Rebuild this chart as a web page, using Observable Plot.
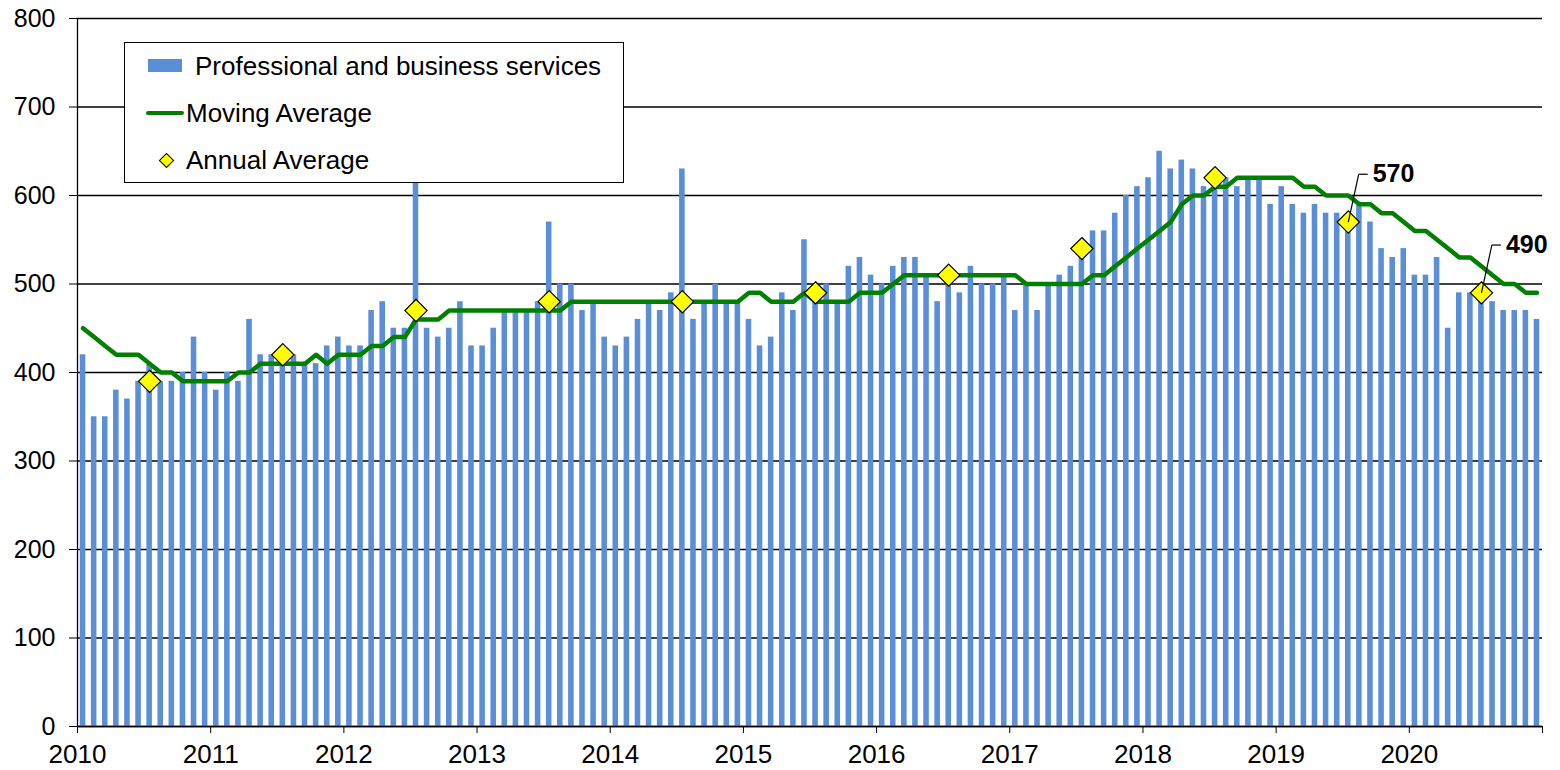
<!DOCTYPE html>
<html>
<head>
<meta charset="utf-8">
<script src="https://cdn.jsdelivr.net/npm/d3@7"></script>
<script src="https://cdn.jsdelivr.net/npm/@observablehq/plot@0.6"></script>
<style>
  body { margin: 0; background: #fff; font-family: "Liberation Sans", Arial, sans-serif; }
  #wrap { position: relative; width: 1560px; height: 770px; }
  #legend { position: absolute; left: 124px; top: 42px; width: 500px; height: 141px;
            border: 1.5px solid #000; background: #fff; box-sizing: border-box; }
  #legend .t { position: absolute; font-size: 26px; line-height: 30px; color: #000; white-space: nowrap; }
  #legend .sw { position: absolute; }
</style>
</head>
<body>
<div id="wrap">
  <div id="chart"></div>
  <div id="legend"></div>
</div>
<script>
// ---- data ----
const years = [2010, 2011, 2012, 2013, 2014, 2015, 2016, 2017, 2018, 2019, 2020];
const seriesName = "Professional and business services";
const monthly2010 = [420, 350, 350, 380, 370, 390, 410, 390, 390, 400, 440, 400];
const monthly2011 = [380, 400, 390, 460, 420, 420, 420, 420, 410, 410, 430, 440];
const monthly2012 = [430, 430, 470, 480, 450, 450, 680, 450, 440, 450, 480, 430];
const monthly2013 = [430, 450, 470, 470, 470, 480, 570, 500, 500, 470, 480, 440];
const monthly2014 = [430, 440, 460, 480, 470, 490, 630, 460, 480, 500, 480, 480];
const monthly2015 = [460, 430, 440, 490, 470, 550, 500, 500, 480, 520, 530, 510];
const monthly2016 = [500, 520, 530, 530, 510, 480, 520, 490, 520, 500, 500, 510];
const monthly2017 = [470, 500, 470, 500, 510, 520, 530, 560, 560, 580, 600, 610];
const monthly2018 = [620, 650, 630, 640, 630, 610, 610, 620, 610, 620, 620, 590];
const monthly2019 = [610, 590, 580, 590, 580, 580, 570, 590, 570, 540, 530, 540];
const monthly2020 = [510, 510, 530, 450, 490, 490, 490, 480, 470, 470, 470, 460];

const movingAvg2010 = [450, 440, 430, 420, 420, 420, 410, 400, 400, 390, 390, 390];
const movingAvg2011 = [390, 390, 400, 400, 410, 410, 410, 410, 410, 420, 410, 420];
const movingAvg2012 = [420, 420, 430, 430, 440, 440, 460, 460, 460, 470, 470, 470];
const movingAvg2013 = [470, 470, 470, 470, 470, 470, 470, 470, 480, 480, 480, 480];
const movingAvg2014 = [480, 480, 480, 480, 480, 480, 480, 480, 480, 480, 480, 480];
const movingAvg2015 = [490, 490, 480, 480, 480, 490, 480, 480, 480, 480, 490, 490];
const movingAvg2016 = [490, 500, 510, 510, 510, 510, 510, 510, 510, 510, 510, 510];
const movingAvg2017 = [510, 500, 500, 500, 500, 500, 500, 510, 510, 520, 530, 540];
const movingAvg2018 = [550, 560, 570, 590, 600, 600, 610, 610, 620, 620, 620, 620];
const movingAvg2019 = [620, 620, 610, 610, 600, 600, 600, 590, 590, 580, 580, 570];
const movingAvg2020 = [560, 560, 550, 540, 530, 530, 520, 510, 500, 500, 490, 490];

const annualAvg = [390, 420, 470, 480, 480, 490, 510, 540, 620, 570, 490];
const labelledYears = [2019, 2020];
const labelledValues = [570, 490];

const yTicks = [0, 100, 200, 300, 400, 500, 600, 700, 800];
const xTicks = [2010, 2011, 2012, 2013, 2014, 2015, 2016, 2017, 2018, 2019, 2020, 2021];

// ---- build tables ----
const monthlyAll = [monthly2010, monthly2011, monthly2012, monthly2013, monthly2014, monthly2015,
  monthly2016, monthly2017, monthly2018, monthly2019, monthly2020].flat();
const maAll = [movingAvg2010, movingAvg2011, movingAvg2012, movingAvg2013, movingAvg2014, movingAvg2015,
  movingAvg2016, movingAvg2017, movingAvg2018, movingAvg2019, movingAvg2020].flat();
const rows = monthlyAll.map((v, i) => ({ t: years[0] + (i + 0.5) / 12, v, ma: maAll[i] }));
const annual = years.map((y, i) => ({ t: y + 6.5 / 12, v: annualAvg[i] }));
const labels = labelledYears.map((y, i) => ({ t: y + 6.5 / 12, v: labelledValues[i] }));

const halfBar = 0.25 / 12;
const leadDX = 0.078, leadDY = 54, leadH = 0.068;

const font = "'Liberation Sans', Arial, sans-serif";

const chart = Plot.plot({
  width: 1560,
  height: 770,
  marginLeft: 77,
  marginRight: 18,
  marginTop: 18,
  marginBottom: 44,
  style: { fontFamily: font, fontSize: "25px", color: "#000", background: "#fff", overflow: "visible" },
  x: { domain: [2010, 2021], label: null },
  y: { domain: [0, 800], label: null },
  marks: [
    Plot.ruleY(yTicks, { stroke: "#000", strokeWidth: 1.3 }),
    Plot.rect(rows, { x1: d => d.t - halfBar, x2: d => d.t + halfBar, y1: () => 0, y2: "v", fill: "#5a8ed6" }),
    Plot.line(rows, { x: "t", y: "ma", stroke: "#008000", strokeWidth: 4.5, strokeLinejoin: "round" }),
    Plot.dot(annual, { x: "t", y: "v", symbol: "diamond2", r: 10, fill: "#ffff00", stroke: "#000", strokeWidth: 1.2 }),
    Plot.link(labels, { x1: "t", y1: "v", x2: d => d.t + leadDX, y2: d => d.v + leadDY, stroke: "#000", strokeWidth: 1.2 }),
    Plot.link(labels, { x1: d => d.t + leadDX, y1: d => d.v + leadDY, x2: d => d.t + leadDX + leadH, y2: d => d.v + leadDY, stroke: "#000", strokeWidth: 1.2 }),
    Plot.text(labels, { x: d => d.t + leadDX + leadH, y: d => d.v + leadDY, text: d => String(d.v),
      textAnchor: "start", dx: 5, fontWeight: "bold", fontSize: 25, fill: "#000" }),
    Plot.ruleX([2010], { stroke: "#000", strokeWidth: 1.3 }),
    Plot.ruleY([0], { stroke: "#000", strokeWidth: 1.3 }),
    Plot.axisX(xTicks, { tickFormat: d => d === 2021 ? "" : String(d), tickSize: 7, tickPadding: 11,
      fontSize: 26, label: null, stroke: "#000" }),
    Plot.axisY(yTicks, { tickSize: 8, tickPadding: 14, fontSize: 25, label: null, stroke: "#000" })
  ]
});
document.getElementById("chart").appendChild(chart);

// ---- legend ----
const legend = document.getElementById("legend");
legend.innerHTML = `
  <div class="sw" style="left:23px;top:16px;width:34px;height:13px;background:#5a8ed6"></div>
  <div class="t" style="left:70px;top:8px">${seriesName}</div>
  <div class="sw" style="left:21px;top:68px;width:38px;height:4px;background:#008000;border-radius:2px"></div>
  <div class="t" style="left:61px;top:55px">Moving Average</div>
  <div class="sw" style="left:36px;top:112px;width:9px;height:9px;background:#ffff00;border:1px solid #000;transform:rotate(45deg)"></div>
  <div class="t" style="left:61px;top:102px">Annual Average</div>
`;
</script>
</body>
</html>
